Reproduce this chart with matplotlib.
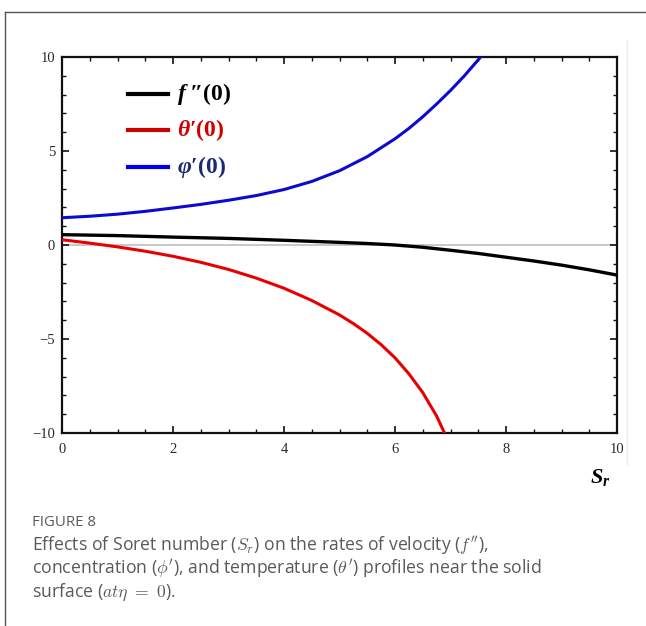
import matplotlib
matplotlib.use("Agg")
import matplotlib.pyplot as plt
from matplotlib.lines import Line2D
from matplotlib.ticker import MultipleLocator

# ---- data ----
sr_f = [0, 1, 2, 3, 4, 5, 5.5, 6, 6.5, 7, 7.5, 8, 8.5, 9, 9.5, 10]
f_vals = [0.55, 0.5, 0.42, 0.35, 0.25, 0.14, 0.08, 0.0, -0.12, -0.28, -0.45,
          -0.65, -0.85, -1.07, -1.32, -1.6]

sr_theta = [0, 0.5, 1, 1.5, 2, 2.5, 3, 3.5, 4, 4.5, 5, 5.25, 5.5, 5.75, 6,
            6.25, 6.5, 6.75, 6.9]
theta_vals = [0.28, 0.1, -0.1, -0.33, -0.6, -0.92, -1.3, -1.76, -2.3, -2.95,
              -3.72, -4.18, -4.7, -5.3, -6.0, -6.85, -7.85, -9.1, -10.05]

sr_phi = [0, 0.5, 1, 1.5, 2, 2.5, 3, 3.5, 4, 4.5, 5, 5.5, 6, 6.25, 6.5, 6.75,
          7, 7.25, 7.5, 7.6]
phi_vals = [1.45, 1.53, 1.64, 1.79, 1.97, 2.16, 2.38, 2.63, 2.95, 3.38, 3.95,
            4.7, 5.65, 6.2, 6.82, 7.5, 8.22, 9.0, 9.85, 10.2]

legend_labels = [r"$f$" + "\u2009\u2033(0)", r"$\theta$" + "\u2032(0)",
                 r"$\varphi$" + "\u2032(0)"]
x_ticks = [0, 2, 4, 6, 8, 10]
y_ticks = [-10, -5, 0, 5, 10]

W, H = 646, 626
fig = plt.figure(figsize=(W / 100, H / 100), dpi=100)
fig.patch.set_facecolor("white")

plt.rcParams["mathtext.fontset"] = "custom"
plt.rcParams["mathtext.it"] = "Liberation Serif:italic:bold"
plt.rcParams["mathtext.rm"] = "Liberation Serif:bold"
plt.rcParams["mathtext.bf"] = "Liberation Serif:bold"

def fx(px):
    return px / W

def fy(py):
    return 1 - py / H

ax = fig.add_axes([fx(62), fy(433), fx(617) - fx(62), fy(57) - fy(433)])
ax.set_xlim(0, 10)
ax.set_ylim(-10, 10)

ax.axhline(0, color="#c4c4c4", lw=1.3, zorder=1)
ax.plot(sr_f, f_vals, color="black", lw=2.4, zorder=3)
ax.plot(sr_theta, theta_vals, color="#e80000", lw=2.2, zorder=3)
ax.plot(sr_phi, phi_vals, color="#0a0ad0", lw=2.2, zorder=3)

for s in ax.spines.values():
    s.set_linewidth(1.6)
    s.set_color("#111111")

ax.set_xticks(x_ticks)
ax.set_yticks(y_ticks)
ax.xaxis.set_minor_locator(MultipleLocator(0.5))
ax.yaxis.set_minor_locator(MultipleLocator(1))
ax.tick_params(which="both", direction="in", top=True, right=True,
               colors="#111111")
ax.tick_params(which="major", length=5, width=1.2, labelsize=10.5)
ax.tick_params(axis="x", which="major", pad=7)
ax.tick_params(axis="y", which="major", pad=5)
ax.tick_params(which="minor", length=3, width=1.0)
ax.set_xticklabels([str(v) for v in x_ticks], family="Liberation Serif",
                   color="#2a2a2a")
ax.set_yticklabels(["\u2212" + str(-v) if v < 0 else str(v) for v in y_ticks],
                   family="Liberation Serif", color="#2a2a2a")

# legend (manual, to match position)
leg_colors = ["black", "#cc0000", "#0000ee"]
txt_colors = ["black", "#d00000", "#1a2a70"]
leg_y = [94, 130, 167]
for lab, lc, tc, py in zip(legend_labels, leg_colors, txt_colors, leg_y):
    fig.add_artist(Line2D([fx(128), fx(168)], [fy(py), fy(py)], color=lc,
                          lw=3.0))
    fig.text(fx(177), fy(py), lab, color=tc, fontsize=17, va="center",
             ha="left", family=["Liberation Serif", "DejaVu Serif"],
             weight="bold")

fig.text(fx(600), fy(478), r"$S_r$", fontsize=16, ha="center", va="center",
         color="black")

# outer frame lines
fig.add_artist(Line2D([fx(5), fx(646)], [fy(12), fy(12)], color="#555555",
                      lw=1.0))
fig.add_artist(Line2D([fx(5), fx(5)], [fy(12), fy(626)], color="#555555",
                      lw=1.0))
fig.add_artist(Line2D([fx(627), fx(627)], [fy(40), fy(465)],
                      color="#ececec", lw=1.0))

cap_color = "#5a5a5a"
fig.text(fx(32), fy(522), "FIGURE 8", fontsize=10.8, color=cap_color,
         family="Open Sans", va="center", ha="left")
cap_lines = [
    r"Effects of Soret number ($S_r$) on the rates of velocity ($f''$),",
    r"concentration ($\phi'$), and temperature ($\theta'$) profiles near the solid",
    r"surface ($at\eta\ =\ 0$).",
]
cap_y = [546, 569, 592]
for line, py in zip(cap_lines, cap_y):
    fig.text(fx(32), fy(py), line, fontsize=12.7, color=cap_color,
             family="Open Sans", va="center", ha="left",
             math_fontfamily="cm")

fig.savefig("out.png", dpi=100)
